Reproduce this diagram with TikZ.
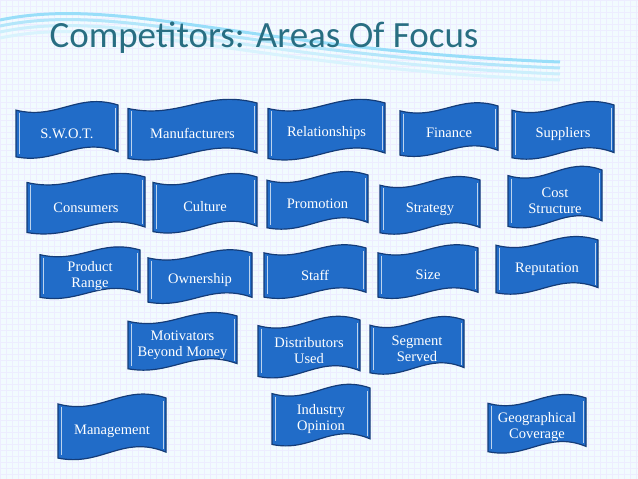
\documentclass[tikz,border=0pt]{standalone}
\usepackage{fontspec}
\setmainfont{Liberation Serif}
\newfontfamily\titlefont{Carlito}
\definecolor{bfill}{RGB}{33,108,200}
\definecolor{bdark}{RGB}{20,60,120}
\definecolor{titlec}{RGB}{40,110,130}
\tikzset{bannertext/.style={text=white,font=\fontsize{14.5}{16}\selectfont,align=center}}
\newcommand\banner[6]{%
 \pgfmathsetmacro\w{#4-#2}\pgfmathsetmacro\h{#5-#3}\pgfmathsetmacro\a{0.09*\h}%
 \draw[bdark,line width=1.2pt,fill=bfill]
  (#2,#3+\a) .. controls (#2+0.4*\w,#3+3*\a) and (#2+0.6*\w,#3-2.5*\a) .. (#4,#3)
  -- (#4,#5-\a-\a) .. controls (#4-0.4*\w,#5-\a-4*\a) and (#4-0.6*\w,#5-\a+1.5*\a) .. (#2,#5-\a) -- cycle;
 \draw[white!70!bfill,line width=0.8pt] (#2+3,#3+\a+3) -- (#2+3,#5-\a-3) (#4-3,#3+3) -- (#4-3,#5-2*\a-3);
 \node[bannertext] (#1) at ({(#2+#4)/2},{(#3+#5)/2}) {#6};}
\begin{document}
\begin{tikzpicture}[x=1pt,y=-1pt]
\useasboundingbox (0,0) rectangle (638,479);
\fill[white!95!cyan] (0,0) rectangle (638,479);
\foreach \i in {0,6,...,638} \draw[white!93!blue,line width=0.3pt] (\i,0) -- (\i,479);
\foreach \i in {0,6,...,479} \draw[white!93!blue,line width=0.3pt] (0,\i) -- (638,\i);
\foreach \o/\c in {0/40,6/30,12/20,18/15}
  \draw[cyan!\c!white,line width=3pt] (0,20+\o) .. controls (120,-5+\o) and (250,50+\o) .. (560,62+\o);
\node[anchor=west,text=titlec,font=\titlefont\fontsize{37}{40}\selectfont] (title) at (46,38) {Competitors: Areas Of Focus};
\banner{swot}{16}{105}{118}{162}{S.W.O.T.}
\banner{manu}{128}{103}{257}{164}{Manufacturers}
\banner{rel}{268}{103}{385}{164}{Relationships}
\banner{fin}{400}{106}{498}{160}{Finance}
\banner{sup}{512}{105}{614}{163}{Suppliers}
\banner{cons}{27}{177}{145}{238}{Consumers}
\banner{cult}{153}{177}{257}{237}{Culture}
\banner{prom}{267}{175}{368}{233}{Promotion}
\banner{strat}{380}{180}{480}{238}{Strategy}
\banner{cost}{508}{170}{602}{232}{Cost\\Structure}
\banner{prod}{40}{250}{140}{302}{Product\\Range}
\banner{own}{148}{253}{252}{307}{Ownership}
\banner{staff}{264}{248}{366}{302}{Staff}
\banner{size}{378}{248}{478}{302}{Size}
\banner{rep}{496}{240}{598}{298}{Reputation}
\banner{mot}{128}{316}{237}{374}{Motivators\\Beyond Money}
\banner{dist}{258}{320}{360}{382}{Distributors\\Used}
\banner{seg}{370}{320}{464}{378}{Segment\\Served}
\banner{mgmt}{58}{398}{166}{464}{Management}
\banner{ind}{272}{388}{370}{450}{Industry\\Opinion}
\banner{geo}{488}{398}{586}{457}{Geographical\\Coverage}
\end{tikzpicture}
\end{document}
